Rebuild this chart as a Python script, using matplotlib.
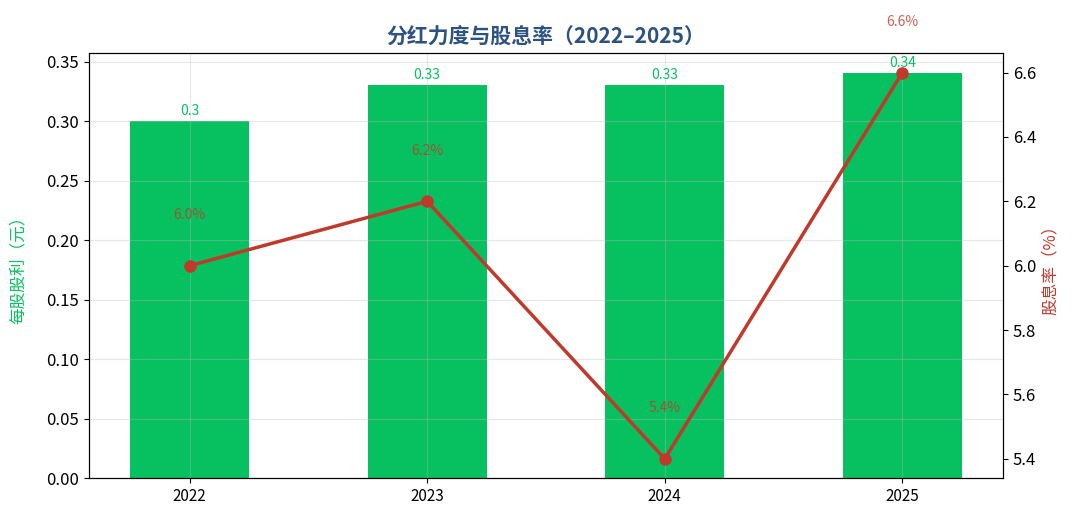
import numpy as np
import matplotlib
matplotlib.use("Agg")
import matplotlib.pyplot as plt

plt.rcParams['font.family'] = ['Noto Sans CJK SC', 'DejaVu Sans']
plt.rcParams['axes.unicode_minus'] = False

# ---- data ----
years = ["2022", "2023", "2024", "2025"]
dps = [0.30, 0.33, 0.33, 0.34]          # 每股股利（元）
dps_labels = ["0.3", "0.33", "0.33", "0.34"]
yield_pct = [6.0, 6.2, 5.4, 6.6]        # 股息率（%）

BAR_COLOR = "#07c160"
LINE_COLOR = "#c0392b"
TITLE_COLOR = "#2c5282"

fig, ax = plt.subplots(figsize=(10.8, 5.22), dpi=100)
x = np.arange(len(years))

ax.bar(x, dps, width=0.5, color=BAR_COLOR, zorder=1)
for xi, v, lab in zip(x, dps, dps_labels):
    ax.text(xi, v + 0.003, lab, ha="center", va="bottom", fontsize=10, color=BAR_COLOR)

ax.set_xticks(x)
ax.set_xticklabels(years, fontsize=11)
ax.tick_params(axis="y", labelsize=12)
ax.set_ylabel("每股股利（元）", color=BAR_COLOR, fontsize=12, labelpad=14)
ax.set_axisbelow(False)
ax.grid(True, color="#bbbbbb", linewidth=0.8, alpha=0.35)

ax2 = ax.twinx()
ax2.plot(x, yield_pct, color=LINE_COLOR, linewidth=2.5, marker="o", markersize=8, zorder=3)
for xi, v in zip(x, yield_pct):
    ax2.text(xi, v + 0.135, f"{v:.1f}%", ha="center", va="bottom", fontsize=10,
             color=LINE_COLOR, alpha=0.8)
ax2.tick_params(axis="y", labelsize=12)
ax2.set_ylabel("股息率（%）", color=LINE_COLOR, fontsize=12)

ax.set_title("分红力度与股息率（2022–2025）", fontsize=15, fontweight="bold",
             color=TITLE_COLOR, pad=7)

fig.subplots_adjust(left=0.082, right=0.929, top=0.898, bottom=0.084)
fig.savefig("out.png", dpi=100)
